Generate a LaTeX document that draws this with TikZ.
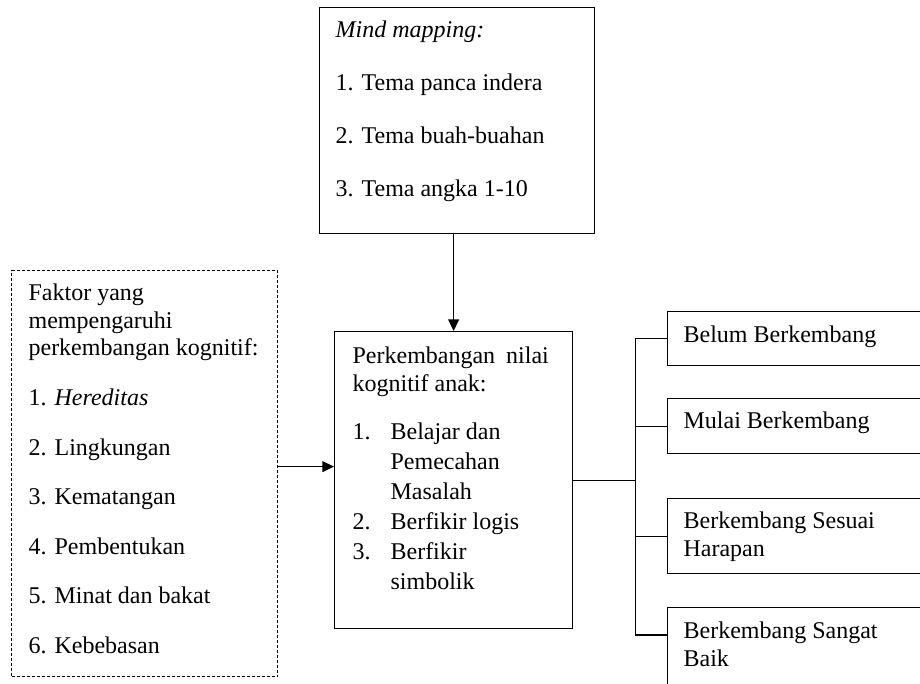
\documentclass[tikz,border=0pt]{standalone}
\usepackage{fontspec}
\setmainfont{Liberation Serif}
\usetikzlibrary{arrows.meta}

\begin{document}
\begin{tikzpicture}[x=0.5pt,y=-0.5pt,
  box/.style={draw,line width=0.6pt,anchor=north west,inner ysep=0pt,inner xsep=8pt,
    align=left,text height=15pt,font=\fontsize{12}{13.8}\selectfont,
    execute at begin node={\spaceskip=0pt\xspaceskip=0pt}},
  link/.style={line width=0.6pt},
  arr/.style={link,-{Triangle[length=5.8pt,width=5.4pt]}}]

\useasboundingbox (0,0) rectangle (920,684);
\clip (0,0) rectangle (920,684);

% Mind mapping (top)
\node[box,text width=121.5pt,text depth=98pt] (mind) at (319,7)
  {\textit{Mind mapping:}\\[12.7pt]
   1. Tema panca indera\\[12.7pt]
   2. Tema buah-buahan\\[12.7pt]
   3. Tema angka 1-10};

% Factors (left, dashed)
\node[box,dashed,dash pattern=on 1.5pt off 1pt,inner xsep=8.5pt,text width=116pt,text depth=188pt] (faktor) at (11,270)
  {Faktor yang\\
   mempengaruhi\\
   \mbox{perkembangan kognitif:}\\[11pt]
   1. \textit{Hereditas}\\[11pt]
   2. Lingkungan\\[11pt]
   3. Kematangan\\[11pt]
   4. Pembentukan\\[11pt]
   5. Minat dan bakat\\[11pt]
   6. Kebebasan};

% Cognitive development (centre)
\node[box,inner xsep=9pt,text width=101pt,text height=16pt,text depth=132.5pt] (nilai) at (334,331)
  {Perkembangan\hspace{5.5pt}nilai\\
   kognitif anak:\\[10.2pt]
   \makebox[19pt][l]{1.}Belajar dan\\[1.2pt]
   \hspace*{19pt}Pemecahan\\[1.2pt]
   \hspace*{19pt}Masalah\\[1.2pt]
   \makebox[19pt][l]{2.}Berfikir logis\\[1.2pt]
   \makebox[19pt][l]{3.}Berfikir\\[1.2pt]
   \hspace*{19pt}simbolik};

% Assessment levels (right)
\node[box,text width=119pt,text height=15.5pt,text depth=11.5pt] (belum) at (667,311) {Belum Berkembang};
\node[box,text width=119pt,text depth=12.5pt] (mulai) at (667,398) {Mulai Berkembang};
\node[box,text width=119pt,text depth=22.5pt] (sesuai) at (667,498) {Berkembang Sesuai\\ Harapan};
\node[box,text width=119pt,text height=15.5pt,text depth=45pt] (sangat) at (667,607) {Berkembang Sangat\\ Baik};

% Arrows
\draw[arr] (mind.south -| nilai.north) -- (nilai.north);
\draw[arr] ([yshift=3.5pt]faktor.east) -- ([yshift=3.5pt]faktor.east -| nilai.west);

% Bracket
\coordinate (fork) at ([xshift=31pt]nilai.east);
\draw[link] (nilai.east) -- (fork);
\draw[link] (fork) |- (belum.west);
\draw[link] (fork) |- (mulai.west);
\draw[link] (fork) |- (sesuai.west);
\draw[link] (fork) |- ([yshift=-14pt]sangat.north west);

\end{tikzpicture}
\end{document}
